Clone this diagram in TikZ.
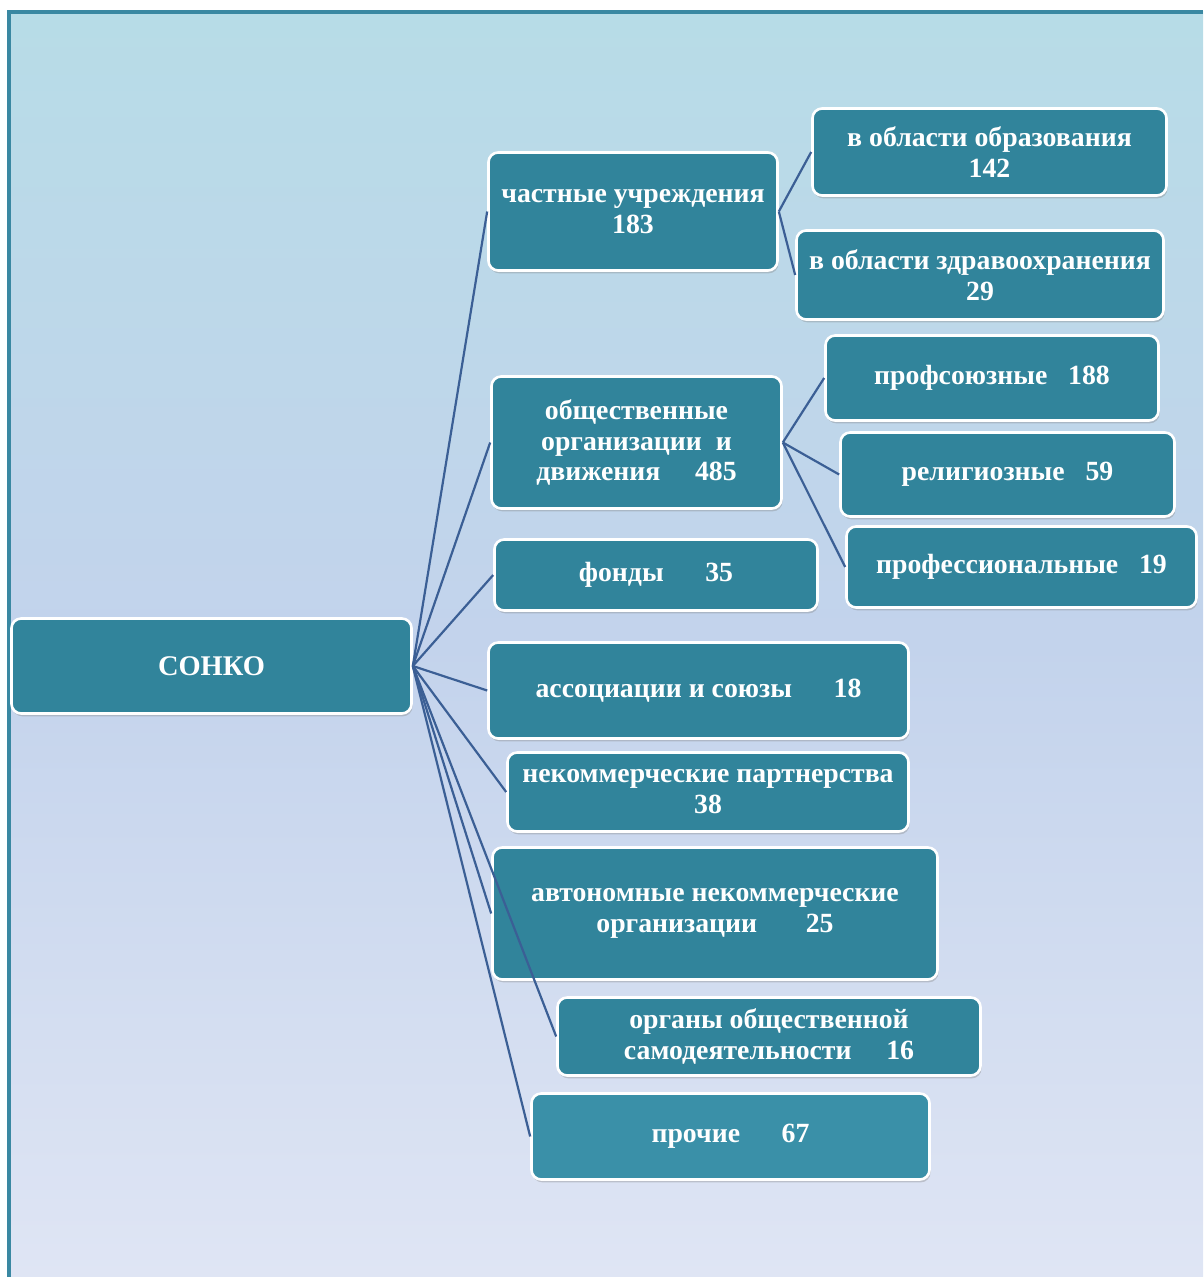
\documentclass[tikz,border=0pt]{standalone}
\usepackage{fontspec}
\setmainfont{Liberation Serif}
\usepackage{xcolor}
\usepackage{tikz}
\usetikzlibrary{shadows}

\definecolor{fundo1}{HTML}{B7DCE7}
\definecolor{fundo2}{HTML}{C3D3EC}
\definecolor{fundo3}{HTML}{DFE5F4}
\definecolor{moldura}{HTML}{3A88A2}
\definecolor{caixa}{HTML}{31849B}
\definecolor{caixaclara}{HTML}{3A90A8}
\definecolor{linha}{HTML}{3B5F95}

\tikzset{
  caixa/.style={draw=white, line width=1.5pt, fill=caixa, rounded corners=5.5pt,
    text=white, font=\bfseries\fontsize{15.8}{17.6}\selectfont, align=center,
    inner sep=2pt, drop shadow={shadow xshift=0.6pt, shadow yshift=-1.6pt, opacity=0.35}},
  liga/.style={draw=linha, line width=1.25pt}
}

\begin{document}
\begin{tikzpicture}
    % Fundo
    \useasboundingbox (0,0) rectangle (24.06,-25.54);
    \shade[top color=fundo1, bottom color=fundo3, middle color=fundo2] (0.16,-0.22) rectangle (24.06,-25.54);
    \draw[moldura, line width=2pt] (0.18,-25.54) -- (0.18,-0.24) -- (24.06,-0.24);

    % Raiz
    \node[caixa, minimum width=8.0cm, minimum height=1.9cm, font=\bfseries\fontsize{16.2}{19}\selectfont] (sonko) at (4.23,-13.32) {СОНКО};

    % Primeiro nível
    \node[caixa, minimum width=5.78cm, minimum height=2.36cm] (privadas) at (12.66,-4.23) {частные учреждения\\183};
    \node[caixa, minimum width=5.8cm, minimum height=2.64cm] (sociais) at (12.73,-8.85) {общественные\\организации\ \ и\\движения\quad\ 485};
    \node[caixa, minimum width=6.46cm, minimum height=1.42cm] (fundos) at (13.12,-11.50) {фонды\quad\ \ 35};
    \node[caixa, minimum width=8.4cm, minimum height=1.92cm] (assoc) at (13.97,-13.81) {ассоциации и союзы\quad\ \ 18};
    \node[caixa, minimum width=8.02cm, minimum height=1.58cm] (parcerias) at (14.16,-15.84) {некоммерческие партнерства\\38};
    \node[caixa, minimum width=8.9cm, minimum height=2.64cm] (autonomas) at (14.30,-18.27) {автономные некоммерческие\\организации\quad\ \ \ 25};
    \node[caixa, minimum width=8.46cm, minimum height=1.56cm] (orgaos) at (15.38,-20.73) {органы общественной\\самодеятельности\quad\ 16};
    \node[caixa, fill=caixaclara, minimum width=7.96cm, minimum height=1.72cm] (outras) at (14.61,-22.73) {прочие\quad\ \ 67};

    % Segundo nível
    \node[caixa, minimum width=7.08cm, minimum height=1.74cm] (educacao) at (19.79,-3.04) {в области образования\\142};
    \node[caixa, minimum width=7.34cm, minimum height=1.78cm] (saude) at (19.60,-5.50) {в области здравоохранения\\29};
    \node[caixa, minimum width=6.66cm, minimum height=1.70cm] (sindicais) at (19.84,-7.56) {профсоюзные\ \ \ 188};
    \node[caixa, minimum width=6.68cm, minimum height=1.68cm] (religiosas) at (20.15,-9.49) {религиозные\ \ \ 59};
    \node[caixa, minimum width=7.0cm, minimum height=1.62cm] (profissionais) at (20.43,-11.34) {профессиональные\ \ \ 19};

    % Ligações
    \foreach \alvo in {privadas, sociais, fundos, assoc, parcerias, autonomas, orgaos, outras}
        \draw[liga] (sonko.east) -- (\alvo.west);
    \draw[liga] (privadas.east) -- (educacao.west);
    \draw[liga] (privadas.east) -- (saude.west);
    \draw[liga] (sociais.east) -- (sindicais.west);
    \draw[liga] (sociais.east) -- (religiosas.west);
    \draw[liga] (sociais.east) -- (profissionais.west);
\end{tikzpicture}
\end{document}
